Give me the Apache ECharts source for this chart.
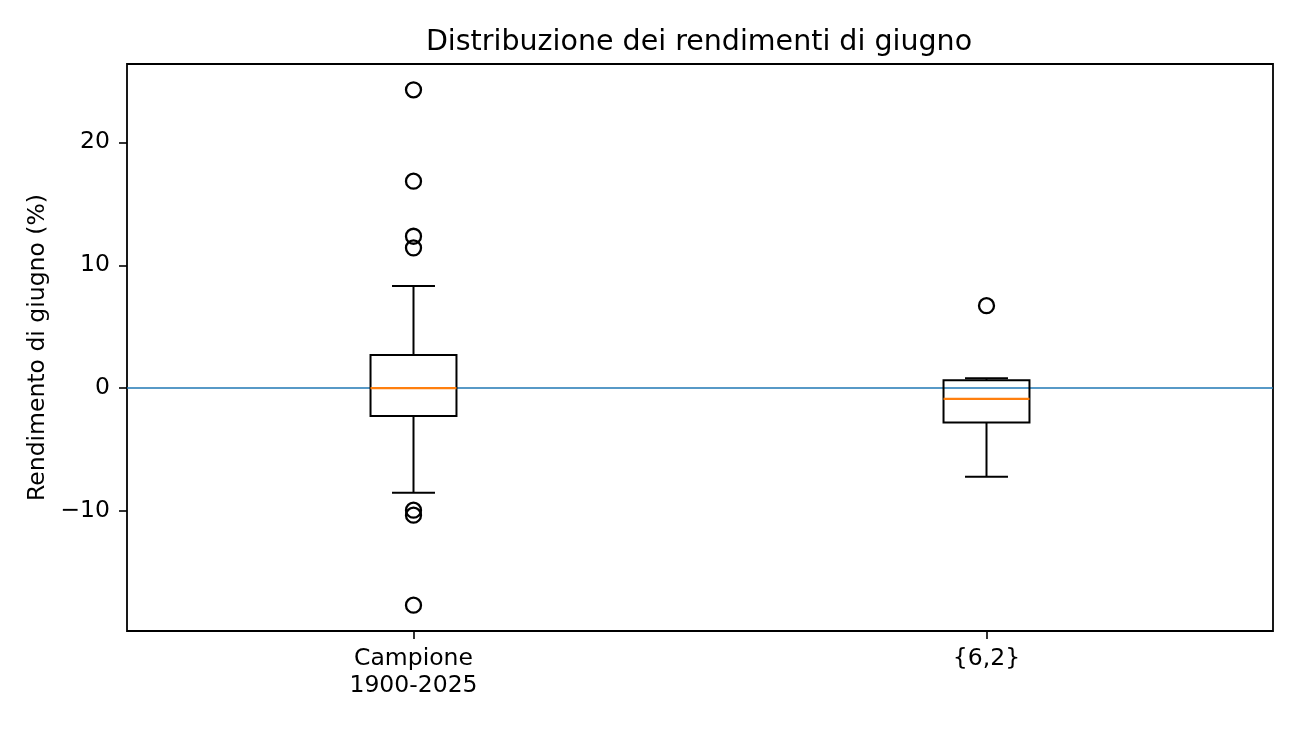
<!DOCTYPE html>
<html>
<head>
<meta charset="utf-8">
<script src="https://cdn.jsdelivr.net/npm/echarts@6/dist/echarts.min.js"></script>
<style>
html,body{margin:0;padding:0;background:#fff;}
#chart{width:1301px;height:730px;}
</style>
</head>
<body>
<div id="chart"></div>
<script>
// ---- data ----
const categories = ['Campione\n1900-2025', '{6,2}'];
const whiskerLow  = [-8.51, -7.20];
const q1          = [-2.26, -2.80];
const median      = [0.0, -0.87];
const q3          = [2.71, 0.65];
const whiskerHigh = [8.31, 0.81];
const outliersCampione = [24.27, 16.84, 12.36, 11.41, -9.92, -10.33, -17.65];
const outliers62 = [6.71];
const yTicks = [-10, 0, 10, 20];
const yMin = -19.75, yMax = 26.37;

const boxData = categories.map((c, i) => [i, whiskerLow[i], q1[i], median[i], q3[i], whiskerHigh[i]]);
const outlierData = outliersCampione.map(v => [0, v]).concat(outliers62.map(v => [1, v]));

const chart = echarts.init(document.getElementById('chart'), null, {renderer: 'canvas'});
const FONT = 'DejaVu Sans';
const option = {
  animation: false,
  backgroundColor: '#fff',
  title: {
    text: 'Distribuzione dei rendimenti di giugno',
    left: 694, top: 23, textAlign: 'center',
    textStyle: {fontFamily: FONT, fontSize: 28.5, fontWeight: 'normal', color: '#000'}
  },
  grid: {left: 127, right: 28, top: 64, bottom: 99, show: true, borderColor: '#000', borderWidth: 1.8, backgroundColor: 'transparent'},
  xAxis: {
    type: 'category', data: categories, boundaryGap: true,
    axisLine: {show: false, onZero: false},
    axisTick: {show: true, alignWithLabel: true, length: 8, lineStyle: {color: '#000', width: 1.6}},
    axisLabel: {fontFamily: FONT, fontSize: 23.5, color: '#000', margin: 14, lineHeight: 27},
    splitLine: {show: false}
  },
  yAxis: {
    type: 'value', min: yMin, max: yMax,
    name: 'Rendimento di giugno (%)', nameLocation: 'middle', nameGap: 76, nameRotate: 90,
    nameTextStyle: {fontFamily: FONT, fontSize: 23.5, color: '#000'},
    axisLine: {show: false},
    axisTick: {show: true, length: 8, customValues: yTicks, lineStyle: {color: '#000', width: 1.6}},
    axisLabel: {fontFamily: FONT, fontSize: 23.5, color: '#000', margin: 17, customValues: yTicks,
      formatter: v => String(v).replace('-', '\u2212')},
    splitLine: {show: false}
  },
  series: [
    {
      type: 'line', data: [], z: 1,
      markLine: {
        silent: true, z: 1, symbol: ['none', 'none'], label: {show: false},
        lineStyle: {color: '#1f77b4', width: 1.6, type: 'solid', opacity: 1},
        emphasis: {disabled: true},
        data: [{yAxis: 0}]
      }
    },
    {
      type: 'custom', z: 3,
      data: boxData,
      renderItem: function (params, api) {
        const idx = api.value(0);
        const band = api.size([1, 0])[0];
        const hw = band * 0.075;
        const cw = hw / 2;
        const pLow = api.coord([idx, api.value(1)]);
        const pQ1 = api.coord([idx, api.value(2)]);
        const pMed = api.coord([idx, api.value(3)]);
        const pQ3 = api.coord([idx, api.value(4)]);
        const pHigh = api.coord([idx, api.value(5)]);
        const x = pQ1[0];
        const blk = {stroke: '#000', lineWidth: 2, fill: null};
        return {
          type: 'group',
          children: [
            {type: 'line', shape: {x1: x, y1: pQ3[1], x2: x, y2: pHigh[1]}, style: blk},
            {type: 'line', shape: {x1: x, y1: pQ1[1], x2: x, y2: pLow[1]}, style: blk},
            {type: 'line', shape: {x1: x - cw, y1: pHigh[1], x2: x + cw, y2: pHigh[1]}, style: blk},
            {type: 'line', shape: {x1: x - cw, y1: pLow[1], x2: x + cw, y2: pLow[1]}, style: blk},
            {type: 'rect', shape: {x: x - hw, y: pQ3[1], width: 2 * hw, height: pQ1[1] - pQ3[1]}, style: {stroke: '#000', lineWidth: 2, fill: 'none'}},
            {type: 'line', shape: {x1: x - hw, y1: pMed[1], x2: x + hw, y2: pMed[1]}, style: {stroke: '#ff7f0e', lineWidth: 2.2}}
          ]
        };
      }
    },
    {
      type: 'scatter', z: 4,
      data: outlierData,
      symbol: 'circle', symbolSize: 15,
      itemStyle: {color: 'rgba(0,0,0,0)', borderColor: '#000', borderWidth: 2.3, opacity: 1},
      emphasis: {disabled: true}
    }
  ]
};
chart.setOption(option);
</script>
</body>
</html>
